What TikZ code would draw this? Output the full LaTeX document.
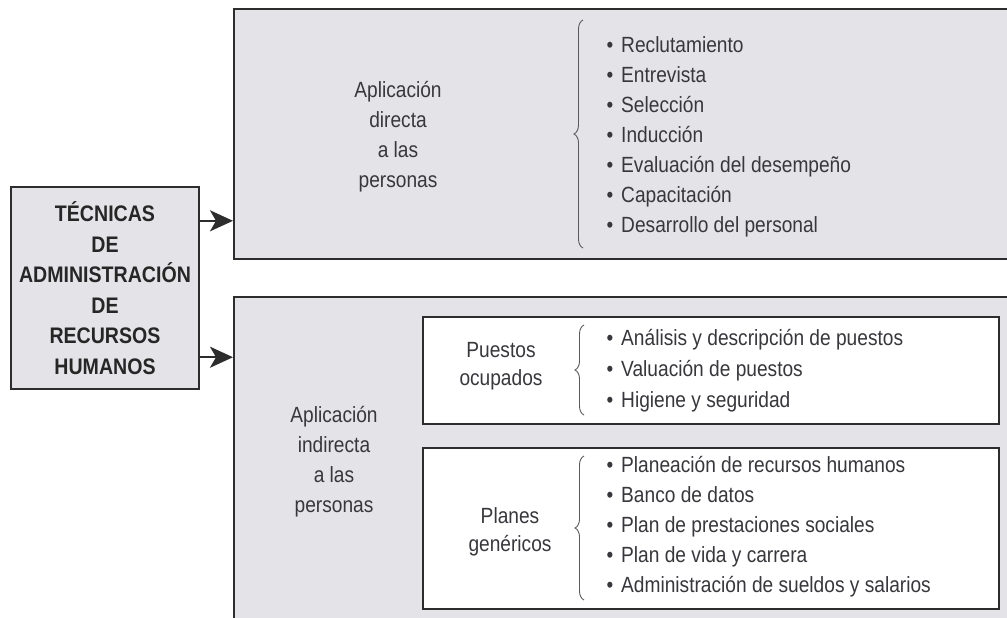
\documentclass[tikz,border=0pt]{standalone}
\usepackage{fontspec}
\setmainfont{Liberation Sans}[FakeStretch=0.87]
\usetikzlibrary{arrows.meta,calc,positioning,decorations.pathreplacing}
\definecolor{boxgray}{RGB}{228,228,232}
\definecolor{linegray}{RGB}{45,45,45}
\definecolor{textgray}{RGB}{55,55,60}
\definecolor{bracegray}{RGB}{90,90,90}

\begin{document}
\begin{tikzpicture}[x=1pt,y=-1pt]
    \tikzset{OuterBox/.style = {draw=linegray, line width=1.6pt, fill=boxgray,
        anchor=north west, inner sep=0pt},
      InnerBox/.style = {OuterBox, fill=white},
      LabelStyle/.style = {align=center, text=textgray,
        font=\fontsize{22}{30}\selectfont},
      ListStyle/.style = {align=left, anchor=west, text=textgray,
        font=\fontsize{22}{30}\selectfont},
      BraceStyle/.style = {draw=bracegray, line width=0.9pt, decorate,
        decoration={brace,amplitude=9pt}},
      EdgeStyle/.style = {-{Stealth[length=23pt,width=21pt,inset=6pt]},
        line width=2.2pt, draw=linegray}}
    \useasboundingbox (0,0) rectangle (1007,618);
    \clip (0,0) rectangle (1007,618);

    \node[draw=linegray, line width=1.6pt, fill=boxgray, minimum width=188pt,
      minimum height=202pt, align=center, text=black!85,
      font=\fontsize{22.5}{30.5}\selectfont\bfseries] (tecnicas) at (105,288)
      {TÉCNICAS\\DE\\ADMINISTRACIÓN\\DE\\RECURSOS\\HUMANOS};

    \node[OuterBox, minimum width=782pt, minimum height=250pt] (directa) at (233,8) {};
    \node[OuterBox, minimum width=782pt, minimum height=340pt] (indirecta) at (233,296) {};
    \node[InnerBox, minimum width=576pt, minimum height=107pt] (puestos) at (422,316) {};
    \node[InnerBox, minimum width=576pt, minimum height=161pt] (planes) at (422,447) {};

    \node[LabelStyle] (directalabel) at (398,137) {Aplicación\\directa\\a las\\personas};
    \node[LabelStyle] (indirectalabel) at (334,462) {Aplicación\\indirecta\\a las\\personas};
    \node[LabelStyle, font=\fontsize{22}{28}\selectfont] (puestoslabel) at (501,366) {Puestos\\ocupados};
    \node[LabelStyle, font=\fontsize{22}{28}\selectfont] (planeslabel) at (510,532) {Planes\\genéricos};

    \node[ListStyle] (directalist) at (603,137) {\textbullet\hspace{8pt}Reclutamiento\\
      \textbullet\hspace{8pt}Entrevista\\
      \textbullet\hspace{8pt}Selección\\
      \textbullet\hspace{8pt}Inducción\\
      \textbullet\hspace{8pt}Evaluación del desempeño\\
      \textbullet\hspace{8pt}Capacitación\\
      \textbullet\hspace{8pt}Desarrollo del personal};
    \node[ListStyle, font=\fontsize{22}{31}\selectfont] (puestoslist) at (603,371)
      {\textbullet\hspace{8pt}Análisis y descripción de puestos\\
      \textbullet\hspace{8pt}Valuación de puestos\\
      \textbullet\hspace{8pt}Higiene y seguridad};
    \node[ListStyle] (planeslist) at (603,527)
      {\textbullet\hspace{8pt}Planeación de recursos humanos\\
      \textbullet\hspace{8pt}Banco de datos\\
      \textbullet\hspace{8pt}Plan de prestaciones sociales\\
      \textbullet\hspace{8pt}Plan de vida y carrera\\
      \textbullet\hspace{8pt}Administración de sueldos y salarios};

    \draw[BraceStyle] (583,248) -- (583,20);
    \draw[BraceStyle] (584,415) -- (584,325);
    \draw[BraceStyle] (584,600) -- (584,456);

    \path ($(tecnicas.north east)!.17!(tecnicas.south east)$) coordinate (outA);
    \path ($(tecnicas.north east)!.84!(tecnicas.south east)$) coordinate (outB);
    \draw[EdgeStyle] (outA) -- (outA -| directa.west);
    \draw[EdgeStyle] (outB) -- (outB -| indirecta.west);
\end{tikzpicture}
\end{document}
